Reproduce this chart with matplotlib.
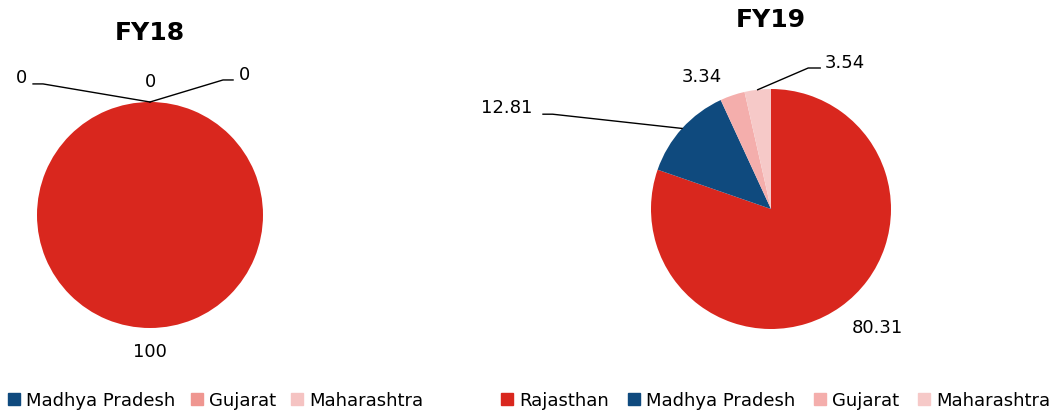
import numpy as np
import matplotlib.pyplot as plt
from matplotlib.patches import Patch

# data
states = ['Rajasthan', 'Madhya Pradesh', 'Gujarat', 'Maharashtra']
fy18 = [100, 0, 0, 0]
fy19 = [80.31, 12.81, 3.34, 3.54]
colors = ['#D9271E', '#0F4A7E', '#F4AEAC', '#F6C9C8']
colors_left_legend = ['#D9271E', '#0F4A7E', '#EF9690', '#F5C3C2']

plt.rcParams['font.family'] = ['DejaVu Sans']

W, H = 1056, 414
fig = plt.figure(figsize=(W / 100, H / 100), dpi=100)


def pie_axes(cx, cy, r):
    return fig.add_axes([(cx - r) / W, (H - cy - r) / H, 2 * r / W, 2 * r / H])


def mid_angles(vals):
    vals = np.asarray(vals, dtype=float)
    cum = np.cumsum(vals) / vals.sum() * 360
    start = 90 - np.concatenate([[0], cum[:-1]])
    return start - vals / vals.sum() * 360 / 2


def edge(ang):
    a = np.deg2rad(ang)
    return np.cos(a), np.sin(a)


# ---- FY18 ----
ax1 = pie_axes(150, 216, 113)
ax1.pie(fy18, colors=colors, startangle=90, counterclock=False, radius=1)
ax1.set_xlim(-1, 1)
ax1.set_ylim(-1, 1)
ax1.set_aspect('equal')
ax1.axis('off')

fs = 13
# labels: Rajasthan at bottom, zeros on top
ax1.text(0, -1.20, f'{fy18[0]:g}', ha='center', va='center', fontsize=fs)
ex, ey = edge(90)
ax1.text(-1.14, 1.22, f'{fy18[1]:g}', ha='center', va='center', fontsize=fs)
ax1.plot([-1.035, -0.947, ex], [1.16, 1.16, ey], color='black', lw=1, clip_on=False)
ax1.text(0, 1.19, f'{fy18[2]:g}', ha='center', va='center', fontsize=fs)
ax1.text(0.84, 1.25, f'{fy18[3]:g}', ha='center', va='center', fontsize=fs)
ax1.plot([ex, 0.646, 0.735], [ey, 1.195, 1.195], color='black', lw=1, clip_on=False)

# ---- FY19 ----
ax2 = pie_axes(771, 210, 120)
ax2.pie(fy19, colors=colors, startangle=90, counterclock=False, radius=1)
ax2.set_xlim(-1, 1)
ax2.set_ylim(-1, 1)
ax2.set_aspect('equal')
ax2.axis('off')

m2 = mid_angles(fy19)
ax2.text(0.89, -0.98, f'{fy19[0]:.2f}', ha='center', va='center', fontsize=fs)
ax2.text(-2.2, 0.85, f'{fy19[1]:.2f}', ha='center', va='center', fontsize=fs)
ex, ey = edge(m2[1])
ax2.plot([-1.9, -1.82, ex], [0.79, 0.79, ey], color='black', lw=1, clip_on=False)
ax2.text(-0.575, 1.11, f'{fy19[2]:.2f}', ha='center', va='center', fontsize=fs)
ax2.text(0.617, 1.225, f'{fy19[3]:.2f}', ha='center', va='center', fontsize=fs)
ex, ey = edge(m2[3])
ax2.plot([0.41, 0.31, ex], [1.175, 1.175, ey], color='black', lw=1, clip_on=False)

# titles
fig.text(150 / W, 1 - 33 / H, 'FY18', ha='center', va='center', fontsize=18, fontweight='bold')
fig.text(771 / W, 1 - 20 / H, 'FY19', ha='center', va='center', fontsize=18, fontweight='bold')

# legends
leg_kw = dict(frameon=False, loc='center left', ncol=4, borderpad=0, borderaxespad=0,
              fontsize=13, handlelength=0.67, handleheight=0.67, handletextpad=0.33)
h_left = [Patch(color=c) for c in colors_left_legend[1:]]
fig.legend(h_left, states[1:], bbox_to_anchor=(8 / W, 13 / H), columnspacing=0.85, **leg_kw)
h_right = [Patch(color=c) for c in colors]
fig.legend(h_right, states, bbox_to_anchor=(501 / W, 13 / H), columnspacing=1.05, **leg_kw)

fig.savefig('out.png', dpi=100)
